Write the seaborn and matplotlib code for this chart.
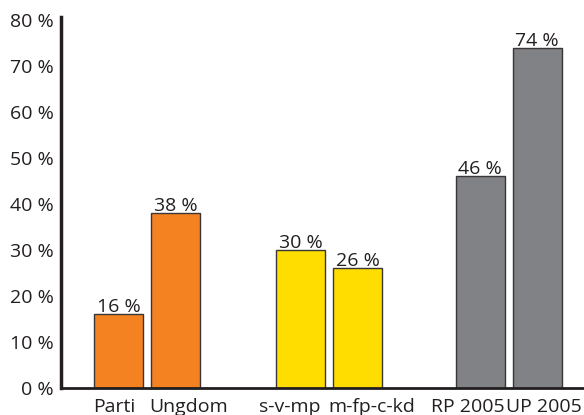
import matplotlib
matplotlib.use("Agg")
import matplotlib.pyplot as plt
import seaborn as sns
import pandas as pd
from matplotlib.transforms import offset_copy, ScaledTranslation

categories = ["Parti", "Ungdom", "s-v-mp", "m-fp-c-kd", "RP 2005", "UP 2005"]
values = [16, 38, 30, 26, 46, 74]
value_labels = ["16 %", "38 %", "30 %", "26 %", "46 %", "74 %"]
y_ticks = [0, 10, 20, 30, 40, 50, 60, 70, 80]
y_tick_labels = ["0 %", "10 %", "20 %", "30 %", "40 %", "50 %", "60 %", "70 %", "80 %"]

colors = ["#F58220", "#F58220", "#FFDD00", "#FFDD00", "#808285", "#808285"]
positions = [0, 1, 3.2, 4.2, 6.35, 7.35]
label_shift_px = [-4.5, 13, -11.5, 13.5, -12.5, 7]

sns.set_theme(style="white")
plt.rcParams["font.family"] = ["Open Sans", "DejaVu Sans"]
ink = "#231F20"

df = pd.DataFrame({"pos": positions, "val": values, "cat": categories})

fig = plt.figure(figsize=(5.84, 4.15), dpi=100)
ax = fig.add_axes([61 / 584, 27 / 415, 1 - 61 / 584, 371 / 415])

sns.barplot(data=df, x="pos", y="val", hue="cat", palette=colors,
            native_scale=True, dodge=False, width=0.86, legend=False,
            edgecolor="#3a3536", linewidth=1.0, saturation=1, ax=ax)

ax.set_xlim(-1.01, 8.17)
ax.set_ylim(0, 80.65)
ax.set_yticks(y_ticks)
ax.set_yticklabels(y_tick_labels, fontsize=14, color=ink)
ax.set_xticks(positions)
ax.set_xticklabels(categories, fontsize=14, color=ink)
ax.tick_params(axis="both", length=0)
ax.tick_params(axis="x", pad=7)
ax.tick_params(axis="y", pad=5)
ax.set_xlabel("")
ax.set_ylabel("")

for lab, dx in zip(ax.get_xticklabels(), label_shift_px):
    lab.set_transform(lab.get_transform() + ScaledTranslation(dx / 100, 0, fig.dpi_scale_trans))

for s in ["top", "right"]:
    ax.spines[s].set_visible(False)
ax.spines["left"].set_color(ink)
ax.spines["left"].set_linewidth(2.5)
ax.spines["bottom"].set_color(ink)
ax.spines["bottom"].set_linewidth(2.0)

tr = offset_copy(ax.transData, fig=fig, x=0, y=2, units="dots")
for p, v, lab in zip(positions, values, value_labels):
    ax.text(p, v, lab, ha="center", va="baseline", fontsize=14,
            color=ink, transform=tr)

fig.savefig("out.png", dpi=100)
